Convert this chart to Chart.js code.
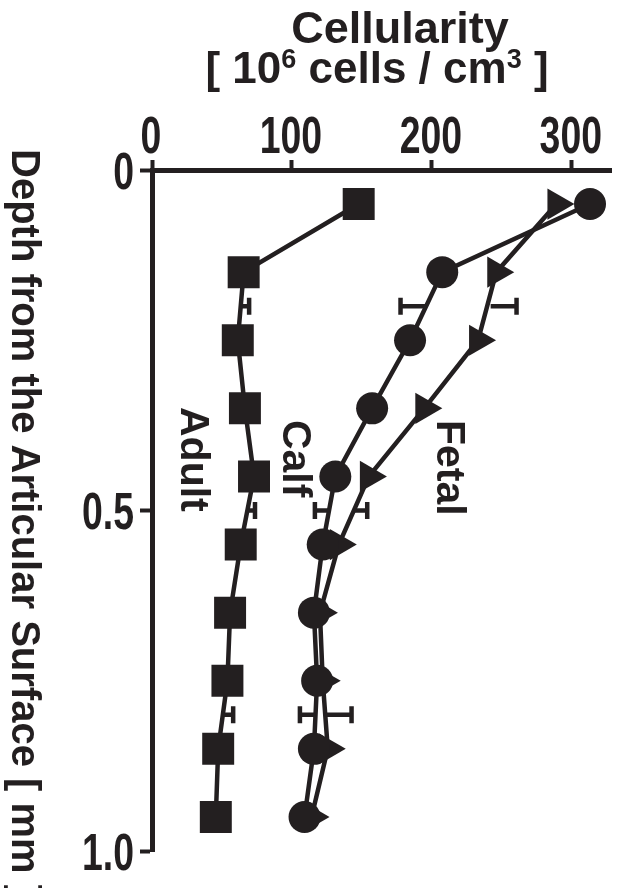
<!DOCTYPE html>
<html>
<head>
<meta charset="utf-8">
<script src="https://cdn.jsdelivr.net/npm/chart.js@4.4.1/dist/chart.umd.min.js"></script>
<style>
  html, body { margin: 0; padding: 0; background: #fff; }
</style>
</head>
<body>
<canvas id="chart" width="617" height="888"></canvas>
<script>
// depth below the surface [mm] and cellularity [10^6 cells / cm^3]
const depth = [0.05, 0.15, 0.25, 0.35, 0.45, 0.55, 0.65, 0.75, 0.85, 0.95];
const adult = [147.7, 65.5, 61.3, 66.4, 72.9, 63.4, 55.8, 53.9, 47.3, 45.6];
const calf = [313, 207.4, 184.4, 157.3, 131, 122, 115.7, 118, 115.7, 109];
const fetal = [289, 246, 233, 194.6, 155, 133.5, 120, 122, 125.6, 114];

// representative error bars, drawn one-sided from the curve
const errDepth = [0.2, 0.5, 0.8];
const adultErrFrom = [63.4, 68.2, 50.6];
const adultErrTo = [69.4, 73.6, 58];
const calfErrFrom = [196, 126.5, 116.9];
const calfErrTo = [177.6, 116.4, 105.7];
const fetalErrFrom = [242, 144, 123.8];
const fetalErrTo = [260.5, 153.8, 142.6];

const xTickValues = [0, 100, 200, 300];
const xTickLabels = ['0', '100', '200', '300'];
const yTickValues = [0, 0.5, 1];
const yTickLabels = ['0', '0.5', '1.0'];

const ink = '#231f20';
const sans = "'Liberation Sans', Arial, Helvetica, sans-serif";

function series(label, values, style, radius, rotation) {
    return {
        label: label,
        data: values.map((v, i) => ({ x: v, y: depth[i] })),
        showLine: true,
        borderColor: ink,
        borderWidth: 4.5,
        backgroundColor: ink,
        pointStyle: style,
        pointRadius: radius,
        pointRotation: rotation,
        pointBorderWidth: 0,
        pointBackgroundColor: ink,
        tension: 0,
        clip: false
    };
}

// narrow tick numbers (the original uses a condensed face)
function narrowText(c, text, x, y, align) {
    const squeeze = 0.72;
    c.save();
    c.font = 'bold 52px ' + sans;
    c.textBaseline = 'alphabetic';
    const w = c.measureText(text).width * squeeze;
    let left = x - w / 2;
    if (align === 'right') left = x - w;
    c.translate(left, y);
    c.scale(squeeze, 1);
    c.textAlign = 'left';
    c.fillText(text, 0, 0);
    c.restore();
}

// titles, tick numbers, group labels and error bars
const extras = {
    id: 'extras',
    afterDatasetsDraw(chart) {
        const c = chart.ctx;
        const xs = chart.scales.x, ys = chart.scales.y;
        c.save();
        c.fillStyle = ink;
        c.strokeStyle = ink;

        // error bars
        const bars = [
            [adultErrFrom, adultErrTo],
            [calfErrFrom, calfErrTo],
            [fetalErrFrom, fetalErrTo]
        ];
        c.lineWidth = 4.5;
        bars.forEach(([from, to]) => {
            errDepth.forEach((d, i) => {
                const y = ys.getPixelForValue(d);
                const x0 = xs.getPixelForValue(from[i]);
                const x1 = xs.getPixelForValue(to[i]);
                c.beginPath();
                c.moveTo(x0, y);
                c.lineTo(x1, y);
                c.moveTo(x1, y - 8.5);
                c.lineTo(x1, y + 8.5);
                c.stroke();
            });
        });

        // tick numbers
        xTickValues.forEach((v, i) => {
            narrowText(c, xTickLabels[i], xs.getPixelForValue(v) - 1, xs.bottom - 17, 'center');
        });
        yTickValues.forEach((v, i) => {
            narrowText(c, yTickLabels[i], ys.right - 18, ys.getPixelForValue(v) + 18.5, 'right');
        });

        // group labels, rotated clockwise
        const groups = [
            { text: 'Adult', x: 31.4, d: 0.348 },
            { text: 'Calf', x: 104.3, d: 0.367 },
            { text: 'Fetal', x: 214.3, d: 0.367 }
        ];
        c.font = 'bold 41px ' + sans;
        c.textAlign = 'left';
        c.textBaseline = 'alphabetic';
        groups.forEach(g => {
            c.save();
            c.translate(xs.getPixelForValue(g.x) - 14.5, ys.getPixelForValue(g.d));
            c.rotate(Math.PI / 2);
            c.fillText(g.text, 0, 0);
            c.restore();
        });

        // y axis title
        c.save();
        c.font = 'bold 40px ' + sans;
        c.translate(12, 149);
        c.rotate(Math.PI / 2);
        c.fillText('Depth from the Articular Surface [ mm ]', 0, 0);
        c.restore();

        // x axis title
        c.font = 'bold 45px ' + sans;
        c.textAlign = 'center';
        c.fillText('Cellularity', 400, 43);

        const parts = [
            { t: '[ 10', s: 44, dy: 0 },
            { t: '6', s: 27, dy: -15 },
            { t: ' cells / cm', s: 44, dy: 0 },
            { t: '3', s: 27, dy: -15 },
            { t: ' ]', s: 44, dy: 0 }
        ];
        c.textAlign = 'left';
        let total = 0;
        parts.forEach(p => { c.font = 'bold ' + p.s + 'px ' + sans; p.w = c.measureText(p.t).width; total += p.w; });
        let x = 377 - total / 2;
        parts.forEach(p => {
            c.font = 'bold ' + p.s + 'px ' + sans;
            c.fillText(p.t, x, 83 + p.dy);
            x += p.w;
        });
        c.restore();
    }
};

new Chart(document.getElementById('chart').getContext('2d'), {
    type: 'scatter',
    data: {
        datasets: [
            series('Calf', calf, 'circle', 16, 0),
            series('Fetal', fetal, 'triangle', 18, 90),
            series('Adult', adult, 'rect', 22.6, 0)
        ]
    },
    options: {
        responsive: false,
        animation: false,
        devicePixelRatio: 1,
        layout: { autoPadding: false, padding: { top: 0, left: 0, right: 6, bottom: 37 } },
        plugins: { legend: { display: false }, tooltip: { enabled: false } },
        scales: {
            x: {
                type: 'linear',
                position: 'top',
                min: 0,
                max: 328,
                afterFit: s => { s.height = 170; },
                ticks: { stepSize: 100, includeBounds: false, display: false },
                grid: { drawOnChartArea: false, drawTicks: true, tickLength: 10, tickWidth: 4, tickColor: ink },
                border: { display: true, color: ink, width: 5 }
            },
            y: {
                type: 'linear',
                reverse: true,
                min: 0,
                max: 1,
                afterFit: s => { s.width = 152; },
                ticks: { stepSize: 0.5, includeBounds: false, display: false },
                grid: { drawOnChartArea: false, drawTicks: true, tickLength: 12, tickWidth: 4, tickColor: ink },
                border: { display: true, color: ink, width: 5 }
            }
        }
    },
    plugins: [extras]
});
</script>
</body>
</html>
